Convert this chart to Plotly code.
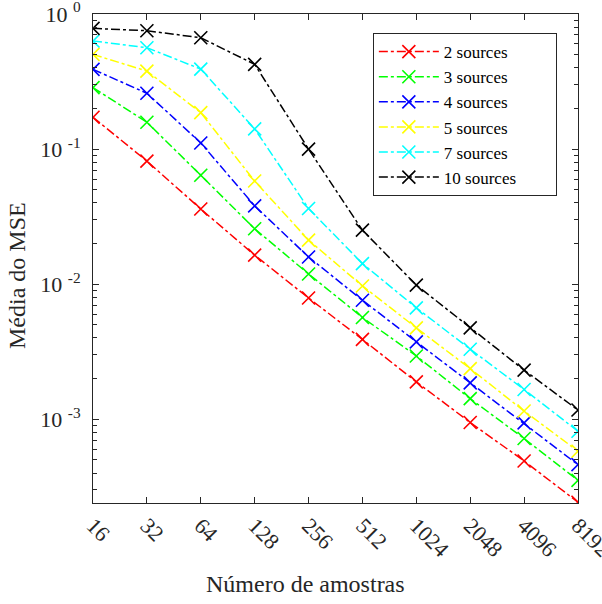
import plotly.graph_objects as go
import numpy as np

samples = [16, 32, 64, 128, 256, 512, 1024, 2048, 4096, 8192]
names = ["2 sources", "3 sources", "4 sources", "5 sources", "7 sources", "10 sources"]
colors = ["#ff0000", "#00ff00", "#0000ff", "#ffff00", "#00ffff", "#000000"]

mse_2 = [0.172, 0.0815, 0.036, 0.0164, 0.0079, 0.0039, 0.00189, 0.000946, 0.000491, 0.000243]
mse_3 = [0.285, 0.158, 0.064, 0.0257, 0.0119, 0.00567, 0.00294, 0.00142, 0.00072, 0.000353]
mse_4 = [0.389, 0.259, 0.111, 0.038, 0.0159, 0.0076, 0.00374, 0.00186, 0.00094, 0.000461]
mse_5 = [0.502, 0.378, 0.186, 0.058, 0.0212, 0.0097, 0.00475, 0.00237, 0.00115, 0.00058]
mse_7 = [0.631, 0.563, 0.391, 0.141, 0.0363, 0.0142, 0.00668, 0.0033, 0.00166, 0.000815]
mse_10 = [0.783, 0.752, 0.667, 0.424, 0.1, 0.0251, 0.00984, 0.00475, 0.00231, 0.00117]
series = [mse_2, mse_3, mse_4, mse_5, mse_7, mse_10]

y_major = [1e-3, 1e-2, 1e-1, 1e0]
y_major_text = ["10 <sup>-3</sup>", "10 <sup>-2</sup>", "10 <sup>-1</sup>", "10 <sup>0</sup>"]

x_title = "Número de amostras"
y_title = "Média do MSE"

# invisible right padding so the legend box is as wide as the reference's
legend_pad = "\u00a0" * 8

fig = go.Figure()
for name, color, vals in zip(names, colors, series):
    fig.add_trace(go.Scatter(
        x=samples, y=vals, name=name + legend_pad, mode="lines+markers",
        line=dict(color=color, width=1.5, dash="dashdot"),
        marker=dict(symbol="x-thin", size=13, line=dict(color=color, width=1.6)),
    ))

minor_vals = [m * 10.0 ** e for e in range(-4, 0) for m in range(2, 10)]

font = "Liberation Serif"
fig.update_layout(
    width=602, height=604,
    margin=dict(l=93, r=24, t=14, b=101, autoexpand=False),
    paper_bgcolor="white", plot_bgcolor="white",
    font=dict(family=font, size=22, color="#262626"),
    showlegend=True,
    legend=dict(
        x=0.577, y=0.961, xanchor="left", yanchor="top",
        bgcolor="white", bordercolor="#262626", borderwidth=1,
        font=dict(family=font, size=17, color="#000000"),
        tracegroupgap=0, itemwidth=60,
    ),
    xaxis=dict(
        type="log", automargin=False,
        range=[np.log10(16), np.log10(8192)],
        tickvals=samples, ticktext=[str(s) for s in samples],
        tickangle=45, ticklabeloverflow="allow",
        ticks="inside", ticklen=6, tickcolor="#262626",
        showline=True, linecolor="#262626", linewidth=1, mirror="ticks",
        showgrid=False, zeroline=False,
    ),
    yaxis=dict(
        type="log", automargin=False,
        range=[-3.62, 0],
        tickvals=y_major, ticktext=y_major_text, ticklabeloverflow="allow",
        ticklabelstandoff=7,
        ticks="inside", ticklen=6, tickcolor="#262626",
        minor=dict(tickvals=minor_vals, ticks="inside", ticklen=4, tickcolor="#262626", showgrid=False),
        showline=True, linecolor="#262626", linewidth=1, mirror="ticks",
        showgrid=False, zeroline=False,
    ),
    annotations=[
        dict(text=x_title, xref="paper", yref="paper", x=0.439, y=-0.166,
             xanchor="center", yanchor="middle", showarrow=False,
             font=dict(family=font, size=24, color="#262626")),
        dict(text=y_title, xref="paper", yref="paper", x=-0.157, y=0.466,
             xanchor="center", yanchor="middle", showarrow=False, textangle=-90,
             font=dict(family=font, size=24, color="#262626")),
    ],
)

# remove the default 8px page margin so the 602x604 figure fills the window
fig.write_html("out.html", config={"displayModeBar": False},
               post_script="document.body.style.margin='0px';")
